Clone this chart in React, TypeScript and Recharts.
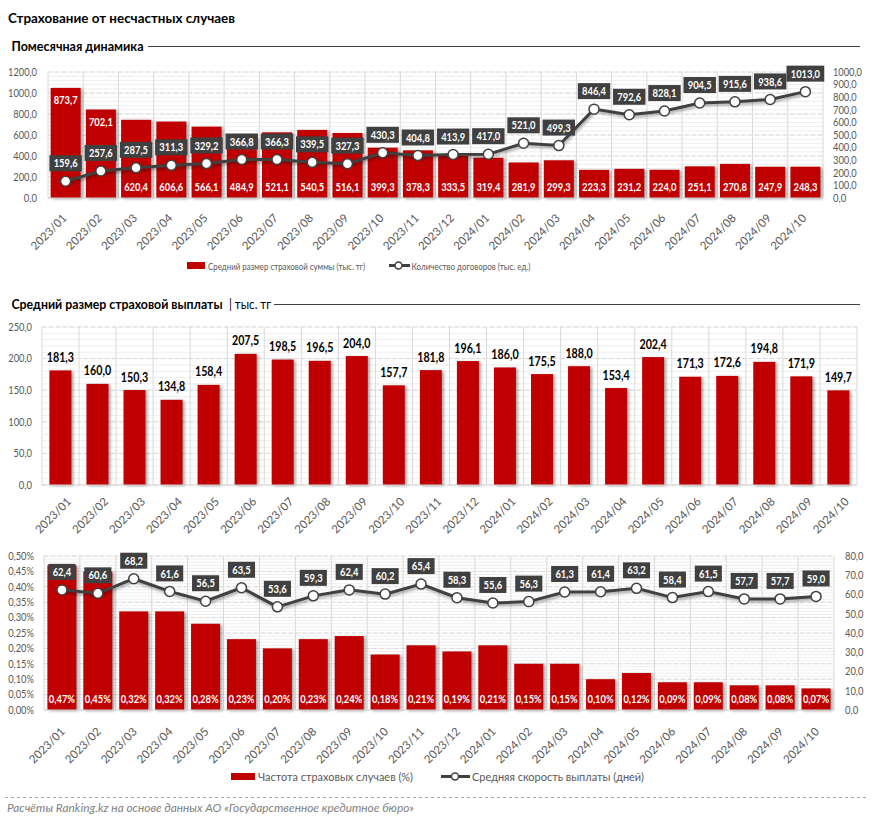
import React from "react";
import { ComposedChart, Bar, Line, XAxis, YAxis, CartesianGrid, LabelList } from "recharts";

// months on the x axis of all three panels
const months = [
  "2023/01", "2023/02", "2023/03", "2023/04", "2023/05", "2023/06", "2023/07", "2023/08",
  "2023/09", "2023/10", "2023/11", "2023/12", "2024/01", "2024/02", "2024/03", "2024/04",
  "2024/05", "2024/06", "2024/07", "2024/08", "2024/09", "2024/10",
];

// panel 1
const avgInsuredSum = [873.7, 702.1, 620.4, 606.6, 566.1, 484.9, 521.1, 540.5, 516.1, 399.3, 378.3, 333.5, 319.4, 281.9, 299.3, 223.3, 231.2, 224.0, 251.1, 270.8, 247.9, 248.3];
const contractsCount = [159.6, 257.6, 287.5, 311.3, 329.2, 366.8, 366.3, 339.5, 327.3, 430.3, 404.8, 413.9, 417.0, 521.0, 499.3, 846.4, 792.6, 828.1, 904.5, 915.6, 938.6, 1013.0];
// panel 2
const avgPayout = [181.3, 160.0, 150.3, 134.8, 158.4, 207.5, 198.5, 196.5, 204.0, 157.7, 181.8, 196.1, 186.0, 175.5, 188.0, 153.4, 202.4, 171.3, 172.6, 194.8, 171.9, 149.7];
// panel 3
const claimFrequency = [0.47, 0.45, 0.32, 0.32, 0.28, 0.23, 0.20, 0.23, 0.24, 0.18, 0.21, 0.19, 0.21, 0.15, 0.15, 0.10, 0.12, 0.09, 0.09, 0.08, 0.08, 0.07];
const payoutDays = [62.4, 60.6, 68.2, 61.6, 56.5, 63.5, 53.6, 59.3, 62.4, 60.2, 65.4, 58.3, 55.6, 56.3, 61.3, 61.4, 63.2, 58.4, 61.5, 57.7, 57.7, 59.0];

// axis ticks
const contractTicks = [0, 200, 400, 600, 800, 1000, 1200];
const sumTicks = [0, 100, 200, 300, 400, 500, 600, 700, 800, 900, 1000];
const payoutTicks = [0, 50, 100, 150, 200, 250];
const freqTicks = [0, 0.05, 0.1, 0.15, 0.2, 0.25, 0.3, 0.35, 0.4, 0.45, 0.5];
const daysTicks = [0, 10, 20, 30, 40, 50, 60, 70, 80];

const dynamicsData = months.map((m, i) => ({ month: m, sum: avgInsuredSum[i], contracts: contractsCount[i] }));
const payoutData = months.map((m, i) => ({ month: m, payout: avgPayout[i] }));
const claimsData = months.map((m, i) => ({ month: m, freq: claimFrequency[i], days: payoutDays[i] }));

const RED = "#C00000";
const DARK = "#404040";
const AXIS_TEXT = "#595959";
const GRID = "#d9d9d9";
const MINOR = "#eeeeee";
const FONT = "Lato, 'Open Sans', sans-serif";

const fmt1 = (v: number) => v.toFixed(1).replace(".", ",");
const fmtPct = (v: number) => v.toFixed(2).replace(".", ",") + "%";

// rough Calibri-like advance widths (em) so numbers keep the narrow look of the original
const CHAR_W: Record<string, number> = { ",": 0.25, ".": 0.252, "/": 0.386, "%": 0.715 };
const textW = (s: string, size: number) =>
  s.split("").reduce((acc, c) => acc + (CHAR_W[c] ?? 0.507) * size, 0);

const SHADOW = "drop-shadow(2px 1px 1.5px rgba(0,0,0,0.35))";

function ShadowBar(props: any) {
  const { x, y, width, height } = props;
  if (!height || height <= 0) return null;
  return <rect x={x} y={y} width={width} height={height} fill={RED} style={{ filter: SHADOW }} />;
}

function makeAngledTick(dx: number, dy: number) {
  return (props: any) => {
    const { x, y, payload } = props;
    return (
      <g transform={`translate(${x + dx},${y + dy}) rotate(-45)`}>
        <text x={0} y={0} dy="0.35em" textAnchor="end" fill={AXIS_TEXT} fontSize={11.5} fontFamily={FONT}>
          {payload.value}
        </text>
      </g>
    );
  };
}

function makeYTick(format: (v: number) => string) {
  return (props: any) => {
    const { x, y, payload, textAnchor } = props;
    const t = format(payload.value);
    return (
      <text x={x} y={y} dy="0.35em" textAnchor={textAnchor} fill={AXIS_TEXT} fontSize={11} fontFamily={FONT}
        textLength={textW(t, 10.4)} lengthAdjust="spacingAndGlyphs">
        {t}
      </text>
    );
  };
}

// dark box label above a line point
function makeBoxLabel(format: (v: number) => string) {
  return (props: any) => {
    const { x, y, value } = props;
    const text = format(value);
    const tw = textW(text, 10.5);
    const w = tw + 8.5;
    const h = 16;
    return (
      <g>
        <rect x={x - w / 2} y={y - 10 - h} width={w} height={h} fill={DARK} />
        <text x={x} y={y - 10 - h / 2} dy="0.36em" textAnchor="middle" fill="#fff" fontWeight="bold" fontSize={11.5}
          fontFamily={FONT} textLength={tw} lengthAdjust="spacingAndGlyphs">
          {text}
        </text>
      </g>
    );
  };
}

// white label inside the bar, at the bottom (or top for tall bars)
function makeInsideLabel(format: (v: number) => string, topAbove?: number) {
  return (props: any) => {
    const { x, y, width, height, value } = props;
    const atTop = topAbove !== undefined && value > topAbove;
    const cy = atTop ? y + 12 : y + height - 11.5;
    const t = format(value);
    return (
      <text x={x + width / 2} y={cy} dy="0.36em" textAnchor="middle" fill="#fff" fontWeight="bold" fontSize={11.5}
        fontFamily={FONT} textLength={textW(t, 10.5)} lengthAdjust="spacingAndGlyphs">
        {t}
      </text>
    );
  };
}

function PayoutLabel(props: any) {
  const { x, y, width, value } = props;
  const t = fmt1(value);
  return (
    <text x={x + width / 2} y={y - 13} dy="0.36em" textAnchor="middle" fill="#000" fontWeight="bold" fontSize={12.5}
      fontFamily={FONT} textLength={textW(t, 12)} lengthAdjust="spacingAndGlyphs">
      {t}
    </text>
  );
}

const bandLines = (n: number) => ({ offset }: any) =>
  Array.from({ length: n + 1 }, (_, i) => offset.left + (offset.width * i) / n);
const minorLines = (n: number) => ({ offset }: any) =>
  Array.from({ length: n + 1 }, (_, i) => offset.top + (offset.height * i) / n);

export default function App() {
  return (
    <div style={{ position: "absolute", left: 0, top: 0, width: 872, height: 823, background: "#fff", overflow: "hidden" }}>
      <style>{`
        .shadow-line .recharts-line-curve { filter: drop-shadow(1px 2px 1.5px rgba(0,0,0,0.35)); }
        .shadow-line .recharts-line-dots circle { filter: drop-shadow(1px 2px 1.5px rgba(0,0,0,0.35)); }
      `}</style>

      <svg width={872} height={823} style={{ position: "absolute", left: 0, top: 0 }}>
        <text x={8} y={23} fontWeight="bold" fontSize={14} fontFamily={FONT} fill="#000" textLength={227} lengthAdjust="spacingAndGlyphs">
          Страхование от несчастных случаев
        </text>

        <text x={11.5} y={50.5} fontWeight="bold" fontSize={12.5} fontFamily={FONT} fill="#000" textLength={132} lengthAdjust="spacingAndGlyphs">
          Помесячная динамика
        </text>
        <line x1={148} x2={860} y1={46.5} y2={46.5} stroke={DARK} strokeWidth={1} />

        <rect x={187} y={262} width={18} height={7} fill={RED} />
        <text x={208} y={269.5} fontSize={9.5} fontFamily={FONT} fill={AXIS_TEXT} textLength={157} lengthAdjust="spacingAndGlyphs">
          Средний размер страховой суммы (тыс. тг)
        </text>
        <line x1={389} x2={410} y1={265.5} y2={265.5} stroke={DARK} strokeWidth={3} />
        <circle cx={398.5} cy={265.5} r={3.5} fill="#fff" stroke={DARK} strokeWidth={1.5} />
        <text x={411.5} y={269.5} fontSize={9.5} fontFamily={FONT} fill={AXIS_TEXT} textLength={119} lengthAdjust="spacingAndGlyphs">
          Количество договоров (тыс. ед.)
        </text>

        <text x={11.5} y={308.5} fontWeight="bold" fontSize={12.5} fontFamily={FONT} fill="#000" textLength={211} lengthAdjust="spacingAndGlyphs">
          Средний размер страховой выплаты
        </text>
        <text x={229} y={308.5} fontSize={12.5} fontFamily={FONT} fill="#000" textLength={42} lengthAdjust="spacingAndGlyphs">
          | тыс. тг
        </text>
        <line x1={274} x2={860} y1={304.5} y2={304.5} stroke={DARK} strokeWidth={1} />

        <rect x={231} y={773} width={24} height={7} fill={RED} />
        <text x={258} y={781} fontSize={11} fontFamily={FONT} fill={AXIS_TEXT} textLength={155} lengthAdjust="spacingAndGlyphs">
          Частота страховых случаев (%)
        </text>
        <line x1={441} x2={470} y1={776.5} y2={776.5} stroke={DARK} strokeWidth={3} />
        <circle cx={455} cy={776.5} r={3.5} fill="#fff" stroke={DARK} strokeWidth={1.5} />
        <text x={472} y={781} fontSize={11} fontFamily={FONT} fill={AXIS_TEXT} textLength={172} lengthAdjust="spacingAndGlyphs">
          Средняя скорость выплаты (дней)
        </text>

        <line x1={5} x2={867} y1={797.5} y2={797.5} stroke="#a6a6a6" strokeWidth={1} strokeDasharray="3 3" />
        <text x={7} y={812} fontStyle="italic" fontSize={11.5} fontFamily={FONT} fill="#7f7f7f" textLength={407} lengthAdjust="spacingAndGlyphs">
          Расчёты Ranking.kz на основе данных АО «Государственное кредитное бюро»
        </text>
      </svg>

      {/* Panel 1: monthly dynamics */}
      <div style={{ position: "absolute", left: 0, top: 60 }}>
        <ComposedChart width={872} height={200} data={dynamicsData} margin={{ top: 12, right: 0, bottom: 0, left: 0 }} barCategoryGap="7.5%">
          <CartesianGrid yAxisId="left" vertical={false} stroke={MINOR} horizontalCoordinatesGenerator={minorLines(30)} />
          <CartesianGrid yAxisId="left" vertical={false} stroke={GRID} strokeDasharray="4 3" />
          <CartesianGrid yAxisId="left" horizontal={false} stroke={GRID} verticalCoordinatesGenerator={bandLines(months.length)} />
          <XAxis dataKey="month" interval={0} height={62} tickLine={false} tickSize={0} tickMargin={0}
            axisLine={{ stroke: GRID }} tick={makeAngledTick(-1, 18)} />
          <YAxis yAxisId="left" domain={[0, 1200]} ticks={contractTicks} interval={0} width={48}
            axisLine={false} tickLine={false} tickSize={0} tickMargin={11} tick={makeYTick(fmt1)} />
          <YAxis yAxisId="right" orientation="right" domain={[0, 1000]} ticks={sumTicks} interval={0} width={49}
            axisLine={false} tickLine={false} tickSize={0} tickMargin={10} tick={makeYTick(fmt1)} />
          <Bar yAxisId="right" dataKey="sum" shape={ShadowBar} isAnimationActive={false}>
            <LabelList dataKey="sum" content={makeInsideLabel(fmt1, 650)} />
          </Bar>
          <Line yAxisId="left" dataKey="contracts" className="shadow-line" stroke={DARK} strokeWidth={3}
            dot={{ r: 5, fill: "#fff", stroke: DARK, strokeWidth: 1.5 }} activeDot={false} isAnimationActive={false}>
            <LabelList dataKey="contracts" content={makeBoxLabel(fmt1)} />
          </Line>
        </ComposedChart>
      </div>

      {/* Panel 2: average payout */}
      <div style={{ position: "absolute", left: 0, top: 310 }}>
        <ComposedChart width={872} height={230} data={payoutData} margin={{ top: 17, right: 15, bottom: 0, left: 0 }} barCategoryGap="20%">
          <CartesianGrid vertical={false} stroke={MINOR} horizontalCoordinatesGenerator={minorLines(25)} />
          <CartesianGrid vertical={false} stroke={GRID} strokeDasharray="4 3" />
          <CartesianGrid horizontal={false} stroke={GRID} verticalCoordinatesGenerator={bandLines(months.length)} />
          <XAxis dataKey="month" interval={0} height={55} tickLine={false} tickSize={0} tickMargin={0}
            axisLine={{ stroke: GRID }} tick={makeAngledTick(8.5, 14.5)} />
          <YAxis domain={[0, 250]} ticks={payoutTicks} interval={0} width={42}
            axisLine={false} tickLine={false} tickSize={0} tickMargin={10} tick={makeYTick(fmt1)} />
          <Bar dataKey="payout" shape={ShadowBar} isAnimationActive={false}>
            <LabelList dataKey="payout" content={PayoutLabel} />
          </Bar>
        </ComposedChart>
      </div>

      {/* Panel 3: claim frequency and payout speed */}
      <div style={{ position: "absolute", left: 0, top: 540 }}>
        <ComposedChart width={872} height={230} data={claimsData} margin={{ top: 16, right: 0, bottom: 0, left: 0 }} barCategoryGap="9.5%">
          <CartesianGrid yAxisId="left" vertical={false} stroke={MINOR} horizontalCoordinatesGenerator={minorLines(50)} />
          <CartesianGrid yAxisId="left" vertical={false} stroke={GRID} strokeDasharray="4 3" />
          <CartesianGrid yAxisId="left" horizontal={false} stroke={GRID} verticalCoordinatesGenerator={bandLines(months.length)} />
          <XAxis dataKey="month" interval={0} height={60} tickLine={false} tickSize={0} tickMargin={0}
            axisLine={{ stroke: GRID }} tick={makeAngledTick(1, 19.5)} />
          <YAxis yAxisId="left" domain={[0, 0.5]} ticks={freqTicks} interval={0} width={44}
            axisLine={false} tickLine={false} tickSize={0} tickMargin={10} tick={makeYTick(fmtPct)} />
          <YAxis yAxisId="right" orientation="right" domain={[0, 80]} ticks={daysTicks} interval={0} width={38}
            axisLine={false} tickLine={false} tickSize={0} tickMargin={11} tick={makeYTick(fmt1)} />
          <Bar yAxisId="left" dataKey="freq" shape={ShadowBar} isAnimationActive={false}>
            <LabelList dataKey="freq" content={makeInsideLabel(fmtPct)} />
          </Bar>
          <Line yAxisId="right" dataKey="days" className="shadow-line" stroke={DARK} strokeWidth={3}
            dot={{ r: 5, fill: "#fff", stroke: DARK, strokeWidth: 1.5 }} activeDot={false} isAnimationActive={false}>
            <LabelList dataKey="days" content={makeBoxLabel(fmt1)} />
          </Line>
        </ComposedChart>
      </div>
    </div>
  );
}
